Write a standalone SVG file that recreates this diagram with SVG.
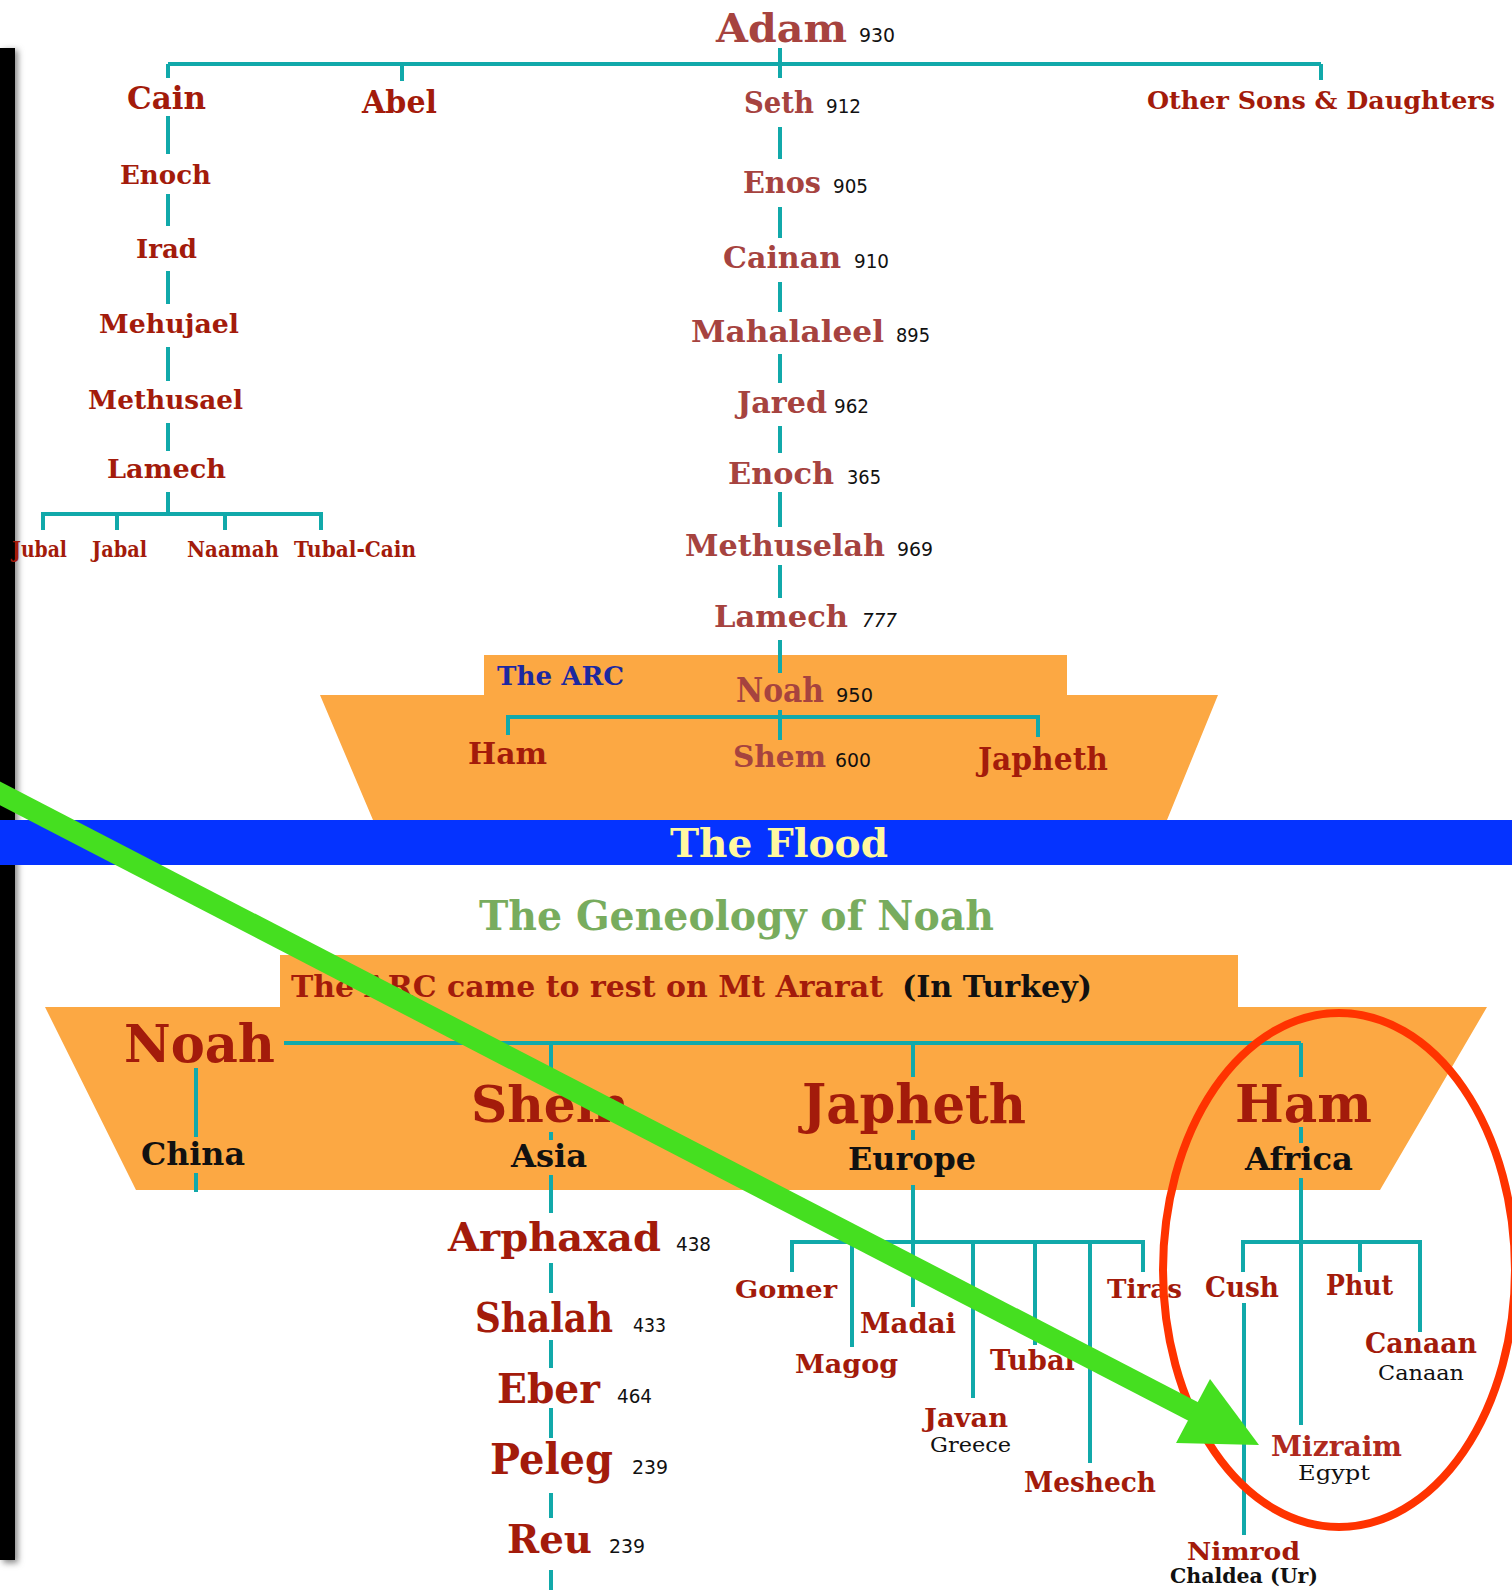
<svg xmlns="http://www.w3.org/2000/svg" width="1512" height="1590" viewBox="0 0 1512 1590">
<defs>
<style>
.nm{font-family:"DejaVu Serif","Liberation Serif",serif;font-weight:bold;fill:#A31B0B}
.sn{font-family:"DejaVu Serif","Liberation Serif",serif;font-weight:bold;fill:#A6433F}
.num{font-family:"Liberation Sans Narrow","DejaVu Sans Condensed","Liberation Sans",sans-serif;font-size:20px;fill:#111}
.bk{font-family:"DejaVu Serif","Liberation Serif",serif;font-weight:bold;fill:#111}
.bkn{font-family:"DejaVu Serif","Liberation Serif",serif;fill:#111}
.ln{stroke:#11A9AA;stroke-width:4;fill:none;stroke-linecap:butt}
</style>
<filter id="sh" x="-50%" y="-10%" width="300%" height="120%"><feGaussianBlur stdDeviation="3"/></filter>
</defs>
<rect width="1512" height="1590" fill="#fff"/>
<g id="sidebar">
<rect x="3" y="50" width="15" height="1513" fill="#888" filter="url(#sh)"/>
<rect x="0" y="48" width="15" height="1512" fill="#000"/>
</g>
<g id="ark-top"><polygon points="484,655 1067,655 1067,695 1218,695 1167,820 373,820 320,695 484,695" fill="#FCA843"/></g>
<g id="flood"><rect x="0" y="820" width="1512" height="45" fill="#0533FF"/>
<text x="670" y="857" font-family="DejaVu Serif,serif" font-weight="bold" font-size="40" fill="#FFF8A0" textLength="218" lengthAdjust="spacingAndGlyphs">The Flood</text></g>
<g id="ark-bottom"><polygon points="280,955 1238,955 1238,1007 1487,1007 1380,1190 136,1190 45,1007 280,1007" fill="#FCA843"/></g>

<g id="connectors" class="ln">
<path d="M168,64 H1321 M780,48 V78 M168,64 V78 M402,64 V81 M1321,64 V80"/>
<path d="M168,116 V154 M168,194 V226 M168,271 V304 M168,347 V381 M168,423 V451 M168,492 V515"/>
<path d="M43,530 V514 H321 V530 M117,514 V530 M225,514 V530"/>
<path d="M780,127 V159 M780,207 V238 M780,282 V312 M780,354 V383 M780,426 V453 M780,492 V527 M780,565 V598 M780,640 V673"/>
<path d="M780,710 V740 M508,735 V717 H1038 V737"/>
<path d="M284,1043 H1301 M196,1068 V1137 M196,1173 V1192"/>
<path d="M551,1043 V1077 M551,1132 V1140 M551,1175 V1213 M551,1263 V1293 M551,1340 V1368 M551,1408 V1438 M551,1493 V1518 M551,1570 V1590"/>
<path d="M913,1043 V1077 M913,1130 V1140 M913,1185 V1307"/>
<path d="M792,1272 V1242 H1143 V1272 M852,1242 V1347 M973,1242 V1398 M1035,1242 V1345 M1090,1242 V1463"/>
<path d="M1301,1043 V1077 M1301,1127 V1143 M1301,1178 V1425"/>
<path d="M1243,1272 V1242 H1420 V1332 M1360,1242 V1272 M1244,1303 V1535"/>
</g>

<g id="n-adam"><text class="sn" x="716" y="42" font-size="40" textLength="131" lengthAdjust="spacingAndGlyphs">Adam</text><text class="num" x="859" y="42" textLength="36" lengthAdjust="spacingAndGlyphs">930</text></g>
<g id="n-cain"><text class="nm" x="127" y="109" font-size="32" textLength="79" lengthAdjust="spacingAndGlyphs">Cain</text></g>
<g id="n-abel"><text class="nm" x="362" y="113" font-size="32" textLength="75" lengthAdjust="spacingAndGlyphs">Abel</text></g>
<g id="n-seth"><text class="sn" x="744" y="113" font-size="29" textLength="70" lengthAdjust="spacingAndGlyphs">Seth</text><text class="num" x="826" y="113" textLength="35" lengthAdjust="spacingAndGlyphs">912</text></g>
<g id="n-others"><text class="nm" x="1147" y="109" font-size="25" textLength="348" lengthAdjust="spacingAndGlyphs">Other Sons &amp; Daughters</text></g>
<g id="n-enoch-c"><text class="nm" x="120" y="184" font-size="26" textLength="91" lengthAdjust="spacingAndGlyphs">Enoch</text></g>
<g id="n-irad"><text class="nm" x="136" y="258" font-size="26" textLength="61" lengthAdjust="spacingAndGlyphs">Irad</text></g>
<g id="n-mehujael"><text class="nm" x="99" y="333" font-size="26" textLength="140" lengthAdjust="spacingAndGlyphs">Mehujael</text></g>
<g id="n-methusael"><text class="nm" x="88" y="409" font-size="26" textLength="155" lengthAdjust="spacingAndGlyphs">Methusael</text></g>
<g id="n-lamech-c"><text class="nm" x="107" y="478" font-size="26" textLength="119" lengthAdjust="spacingAndGlyphs">Lamech</text></g>
<g id="n-jubal"><text class="nm" x="12" y="557" font-size="22" textLength="55" lengthAdjust="spacingAndGlyphs">Jubal</text></g>
<g id="n-jabal"><text class="nm" x="92" y="557" font-size="22" textLength="55" lengthAdjust="spacingAndGlyphs">Jabal</text></g>
<g id="n-naamah"><text class="nm" x="187" y="557" font-size="22" textLength="92" lengthAdjust="spacingAndGlyphs">Naamah</text></g>
<g id="n-tubalcain"><text class="nm" x="294" y="557" font-size="22" textLength="122" lengthAdjust="spacingAndGlyphs">Tubal-Cain</text></g>

<g id="n-enos"><text class="sn" x="743" y="193" font-size="29" textLength="78" lengthAdjust="spacingAndGlyphs">Enos</text><text class="num" x="833" y="193" textLength="35" lengthAdjust="spacingAndGlyphs">905</text></g>
<g id="n-cainan"><text class="sn" x="723" y="268" font-size="29" textLength="118" lengthAdjust="spacingAndGlyphs">Cainan</text><text class="num" x="854" y="268" textLength="35" lengthAdjust="spacingAndGlyphs">910</text></g>
<g id="n-mahalaleel"><text class="sn" x="691" y="342" font-size="29" textLength="193" lengthAdjust="spacingAndGlyphs">Mahalaleel</text><text class="num" x="896" y="342" textLength="34" lengthAdjust="spacingAndGlyphs">895</text></g>
<g id="n-jared"><text class="sn" x="737" y="413" font-size="29" textLength="90" lengthAdjust="spacingAndGlyphs">Jared</text><text class="num" x="834" y="413" textLength="35" lengthAdjust="spacingAndGlyphs">962</text></g>
<g id="n-enoch-s"><text class="sn" x="728" y="484" font-size="29" textLength="106" lengthAdjust="spacingAndGlyphs">Enoch</text><text class="num" x="847" y="484" textLength="34" lengthAdjust="spacingAndGlyphs">365</text></g>
<g id="n-methuselah"><text class="sn" x="685" y="556" font-size="29" textLength="200" lengthAdjust="spacingAndGlyphs">Methuselah</text><text class="num" x="897" y="556" textLength="36" lengthAdjust="spacingAndGlyphs">969</text></g>
<g id="n-lamech-s"><text class="sn" x="714" y="627" font-size="30" textLength="134" lengthAdjust="spacingAndGlyphs">Lamech</text><text class="num" x="862" y="627" font-style="italic" textLength="35" lengthAdjust="spacingAndGlyphs">777</text></g>
<g id="n-thearc"><text x="497" y="685" font-family="DejaVu Serif,serif" font-weight="bold" font-size="26" fill="#1C28A0" textLength="127" lengthAdjust="spacingAndGlyphs">The ARC</text></g>
<g id="n-noah"><text class="sn" x="736" y="702" font-size="33" textLength="88" lengthAdjust="spacingAndGlyphs">Noah</text><text class="num" x="836" y="702" textLength="37" lengthAdjust="spacingAndGlyphs">950</text></g>
<g id="n-ham"><text class="nm" x="468" y="764" font-size="30" textLength="79" lengthAdjust="spacingAndGlyphs">Ham</text></g>
<g id="n-shem"><text class="sn" x="733" y="767" font-size="30" textLength="93" lengthAdjust="spacingAndGlyphs">Shem</text><text class="num" x="835" y="767" textLength="36" lengthAdjust="spacingAndGlyphs">600</text></g>
<g id="n-japheth"><text class="nm" x="978" y="770" font-size="31" textLength="130" lengthAdjust="spacingAndGlyphs">Japheth</text></g>

<g id="title2"><text x="479" y="930" font-family="DejaVu Serif,serif" font-weight="bold" font-size="41" fill="#78AC5E" textLength="515" lengthAdjust="spacingAndGlyphs">The Geneology of Noah</text></g>
<g id="ararat"><text class="nm" x="291" y="997" font-size="30" textLength="592" lengthAdjust="spacingAndGlyphs">The ARC came to rest on Mt Ararat</text><text class="bk" x="902" y="997" font-size="30" textLength="190" lengthAdjust="spacingAndGlyphs">(In Turkey)</text></g>
<g id="n2-noah"><text class="nm" x="124" y="1062" font-size="53" textLength="151" lengthAdjust="spacingAndGlyphs">Noah</text><text class="bk" x="141" y="1165" font-size="32" textLength="104" lengthAdjust="spacingAndGlyphs">China</text></g>
<g id="n2-shem"><text class="nm" x="471" y="1122" font-size="51" textLength="158" lengthAdjust="spacingAndGlyphs">Shem</text><text class="bk" x="511" y="1167" font-size="32" textLength="76" lengthAdjust="spacingAndGlyphs">Asia</text></g>
<g id="n2-japheth"><text class="nm" x="802" y="1123" font-size="55" textLength="224" lengthAdjust="spacingAndGlyphs">Japheth</text><text class="bk" x="848" y="1170" font-size="32" textLength="128" lengthAdjust="spacingAndGlyphs">Europe</text></g>
<g id="n2-ham"><text class="nm" x="1235" y="1122" font-size="53" textLength="137" lengthAdjust="spacingAndGlyphs">Ham</text><text class="bk" x="1245" y="1170" font-size="32" textLength="108" lengthAdjust="spacingAndGlyphs">Africa</text></g>

<g id="n-arphaxad"><text class="nm" x="448" y="1251" font-size="40" textLength="213" lengthAdjust="spacingAndGlyphs">Arphaxad</text><text class="num" x="676" y="1251" font-size="22" textLength="35" lengthAdjust="spacingAndGlyphs">438</text></g>
<g id="n-shalah"><text class="nm" x="475" y="1332" font-size="41" textLength="138" lengthAdjust="spacingAndGlyphs">Shalah</text><text class="num" x="633" y="1332" font-size="22" textLength="33" lengthAdjust="spacingAndGlyphs">433</text></g>
<g id="n-eber"><text class="nm" x="497" y="1403" font-size="41" textLength="103" lengthAdjust="spacingAndGlyphs">Eber</text><text class="num" x="617" y="1403" font-size="22" textLength="35" lengthAdjust="spacingAndGlyphs">464</text></g>
<g id="n-peleg"><text class="nm" x="490" y="1474" font-size="42" textLength="123" lengthAdjust="spacingAndGlyphs">Peleg</text><text class="num" x="632" y="1474" font-size="22" textLength="36" lengthAdjust="spacingAndGlyphs">239</text></g>
<g id="n-reu"><text class="nm" x="507" y="1553" font-size="40" textLength="85" lengthAdjust="spacingAndGlyphs">Reu</text><text class="num" x="609" y="1553" font-size="22" textLength="36" lengthAdjust="spacingAndGlyphs">239</text></g>

<g id="n-gomer"><text class="nm" x="735" y="1298" font-size="25" textLength="102" lengthAdjust="spacingAndGlyphs">Gomer</text></g>
<g id="n-madai"><text class="nm" x="860" y="1333" font-size="27" textLength="96" lengthAdjust="spacingAndGlyphs">Madai</text></g>
<g id="n-magog"><text class="nm" x="795" y="1373" font-size="26" textLength="103" lengthAdjust="spacingAndGlyphs">Magog</text></g>
<g id="n-tubal"><text class="nm" x="990" y="1370" font-size="27" textLength="85" lengthAdjust="spacingAndGlyphs">Tubal</text></g>
<g id="n-javan"><text class="nm" x="924" y="1427" font-size="26" textLength="84" lengthAdjust="spacingAndGlyphs">Javan</text><text class="bkn" x="930" y="1452" font-size="21" textLength="81" lengthAdjust="spacingAndGlyphs">Greece</text></g>
<g id="n-meshech"><text class="nm" x="1024" y="1492" font-size="27" textLength="132" lengthAdjust="spacingAndGlyphs">Meshech</text></g>
<g id="n-tiras"><text class="nm" x="1107" y="1298" font-size="26" textLength="75" lengthAdjust="spacingAndGlyphs">Tiras</text></g>
<g id="n-cush"><text class="nm" x="1205" y="1297" font-size="27" textLength="74" lengthAdjust="spacingAndGlyphs">Cush</text></g>
<g id="n-phut"><text class="nm" x="1326" y="1295" font-size="27" textLength="67" lengthAdjust="spacingAndGlyphs">Phut</text></g>
<g id="n-canaan"><text class="nm" x="1365" y="1353" font-size="27" textLength="112" lengthAdjust="spacingAndGlyphs">Canaan</text><text class="bkn" x="1378" y="1380" font-size="21" textLength="86" lengthAdjust="spacingAndGlyphs">Canaan</text></g>
<g id="n-mizraim"><text class="nm" x="1271" y="1456" font-size="27" textLength="131" lengthAdjust="spacingAndGlyphs" style="fill:#B02A1E">Mizraim</text><text class="bkn" x="1298" y="1480" font-size="21" textLength="72" lengthAdjust="spacingAndGlyphs">Egypt</text></g>
<g id="n-nimrod"><text class="nm" x="1187" y="1560" font-size="25" textLength="113" lengthAdjust="spacingAndGlyphs">Nimrod</text><text class="bk" x="1170" y="1583" font-size="21" textLength="148" lengthAdjust="spacingAndGlyphs">Chaldea (Ur)</text></g>

<g id="highlight"><ellipse cx="1339" cy="1270" rx="176" ry="257" fill="none" stroke="#FF3300" stroke-width="8"/></g>
<g id="arrow"><line x1="-20" y1="783" x2="1200" y2="1415" stroke="#45DF20" stroke-width="21"/><polygon points="1259,1445 1210,1379 1176,1443" fill="#45DF20"/></g>
</svg>
